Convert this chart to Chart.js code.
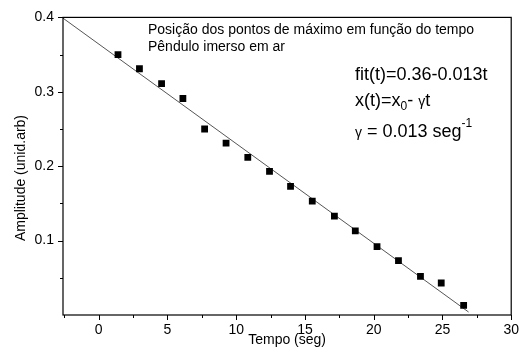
<!DOCTYPE html>
<html>
<head>
<meta charset="utf-8">
<script src="https://cdn.jsdelivr.net/npm/chart.js@4/dist/chart.umd.min.js"></script>
<style>
html, body { margin: 0; padding: 0; background: #fff; }
#wrap { width: 526px; height: 352px; }
</style>
</head>
<body>
<div id="wrap"><canvas id="myChart"></canvas></div>
<script>
// measured maxima (seconds, arbitrary units)
var times = [1.4, 2.96, 4.57, 6.12, 7.7, 9.26, 10.84, 12.42, 13.95, 15.53, 17.14, 18.66, 20.24, 21.8, 23.4, 24.91, 26.54];
var amplitudes = [0.35, 0.331, 0.311, 0.291, 0.25, 0.231, 0.212, 0.193, 0.173, 0.153, 0.133, 0.113, 0.092, 0.073, 0.052, 0.043, 0.013];

// fitted straight line, end points
var fitTimes = [-2.6, 26.9];
var fitValues = [0.399, 0.004];

var xTicks = [-2.5, 0, 2.5, 5, 7.5, 10, 12.5, 15, 17.5, 20, 22.5, 25, 27.5, 30];
var xTickLabels = ['', '0', '', '5', '', '10', '', '15', '', '20', '', '25', '', '30'];
var yTicks = [0.05, 0.1, 0.15, 0.2, 0.25, 0.3, 0.35, 0.4];
var yTickLabels = ['', '0.1', '', '0.2', '', '0.3', '', '0.4'];

var FONT = "'Liberation Sans', Arial, sans-serif";

// one line of mixed-size text (sub/superscripts)
function drawRuns(ctx, runs, x, y) {
    var cx = x;
    runs.forEach(function (r) {
        ctx.font = r[1] + 'px ' + FONT;
        ctx.fillText(r[0], cx, y + (r[2] || 0));
        cx += ctx.measureText(r[0]).width;
    });
}

var framePlugin = {
    id: 'frame',
    afterDraw: function (chart) {
        var ctx = chart.ctx;
        var a = chart.chartArea;
        var xs = chart.scales.x, ys = chart.scales.y;
        ctx.save();
        ctx.strokeStyle = '#000';
        ctx.lineWidth = 1.2;
        ctx.strokeRect(a.left, a.top, a.right - a.left, a.bottom - a.top);

        // ticks, long where there is a label
        ctx.lineWidth = 1;
        ctx.beginPath();
        xTicks.forEach(function (v, i) {
            var px = Math.round(xs.getPixelForValue(v)) + 0.5;
            ctx.moveTo(px, a.bottom);
            ctx.lineTo(px, a.bottom + (xTickLabels[i] ? 5 : 3));
        });
        yTicks.forEach(function (v, i) {
            var py = Math.round(ys.getPixelForValue(v)) + 0.5;
            ctx.moveTo(a.left, py);
            ctx.lineTo(a.left - (yTickLabels[i] ? 5 : 3), py);
        });
        ctx.stroke();

        ctx.fillStyle = '#000';
        ctx.textAlign = 'left';
        ctx.textBaseline = 'alphabetic';

        // y axis title, sits a bit below the middle in the original
        ctx.save();
        ctx.translate(21, 178);
        ctx.rotate(-Math.PI / 2);
        ctx.textAlign = 'center';
        ctx.textBaseline = 'middle';
        ctx.font = '14px ' + FONT;
        ctx.fillText('Amplitude (unid.arb)', 0, 0);
        ctx.restore();

        // annotation text
        ctx.font = '14px ' + FONT;
        ctx.fillText('Posição dos pontos de máximo em função do tempo', 148, 34);
        ctx.fillText('Pêndulo imerso em ar', 148, 51);

        var x0 = 355;
        drawRuns(ctx, [['fit(t)=0.36-0.013t', 18]], x0, 80);
        drawRuns(ctx, [['x(t)=x', 18], ['0', 12, 4], ['- ', 18], ['γ', 14], ['t', 18]], x0, 106);
        drawRuns(ctx, [['γ', 14], [' = 0.013 seg', 18], ['-1', 12, -10]], x0, 137);
        ctx.restore();
    }
};

var ctx = document.getElementById('myChart').getContext('2d');
var myChart = new Chart(ctx, {
    type: 'scatter',
    data: {
        datasets: [{
            label: 'fit',
            type: 'line',
            data: fitTimes.map(function (t, i) { return { x: t, y: fitValues[i] }; }),
            borderColor: '#555',
            borderWidth: 1,
            pointRadius: 0,
            fill: false,
            order: 2
        }, {
            label: 'máximos',
            data: times.map(function (t, i) { return { x: t, y: amplitudes[i] }; }),
            pointStyle: 'rect',
            pointRadius: 4.8,
            backgroundColor: '#000',
            borderColor: '#000',
            borderWidth: 0,
            order: 1
        }]
    },
    options: {
        responsive: true,
        maintainAspectRatio: false,
        animation: false,
        devicePixelRatio: 1,
        layout: { padding: { top: 14, right: 9, left: 0, bottom: 0 } },
        plugins: {
            legend: { display: false },
            tooltip: { enabled: false }
        },
        scales: {
            x: {
                type: 'linear',
                min: -2.6,
                max: 30,
                afterBuildTicks: function (scale) {
                    scale.ticks = xTicks.map(function (v) { return { value: v }; });
                },
                afterFit: function (scale) { scale.height = 37; },
                grid: { display: false, drawTicks: false, tickLength: 0 },
                border: { display: false },
                ticks: {
                    autoSkip: false,
                    maxRotation: 0,
                    padding: 7,
                    color: '#000',
                    font: { family: FONT, size: 14 },
                    callback: function (value, index) { return xTickLabels[index]; }
                },
                title: {
                    display: true,
                    text: 'Tempo (seg)',
                    color: '#000',
                    font: { family: FONT, size: 14 },
                    padding: { top: 0, bottom: 3 }
                }
            },
            y: {
                type: 'linear',
                min: 0,
                max: 0.4,
                afterBuildTicks: function (scale) {
                    scale.ticks = yTicks.map(function (v) { return { value: v }; });
                },
                afterFit: function (scale) { scale.width = 63; },
                grid: { display: false, drawTicks: false, tickLength: 0 },
                border: { display: false },
                ticks: {
                    autoSkip: false,
                    padding: 9,
                    color: '#000',
                    font: { family: FONT, size: 14 },
                    callback: function (value, index) { return yTickLabels[index]; }
                }
            }
        }
    },
    plugins: [framePlugin]
});
</script>
</body>
</html>
